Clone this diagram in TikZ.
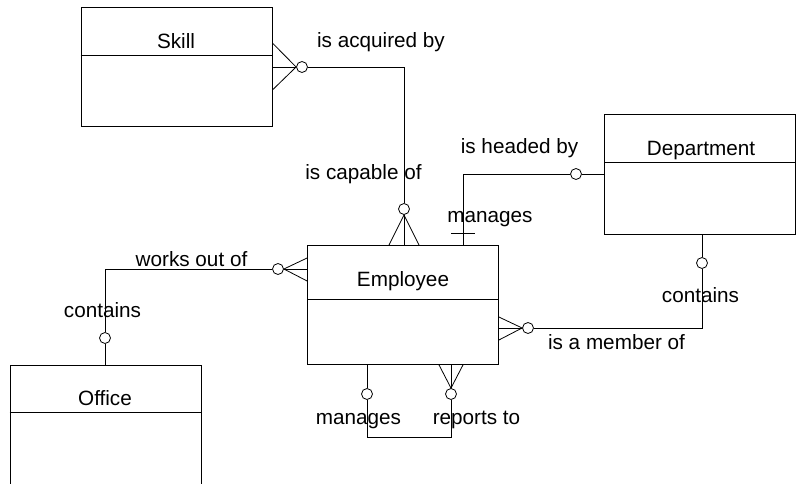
\documentclass[tikz,border=0pt]{standalone}
\usepackage{fontspec}
\setmainfont{Liberation Sans}
\usepackage{tikz}
\usetikzlibrary{calc}

\begin{document}
\begin{tikzpicture}[x=1pt,y=-1pt]
\tikzset{font=\fontsize{20.7}{24}\selectfont}
\tikzset{every path/.style={line width=0.8pt}}
\tikzset{entity/.style={draw, minimum width=191pt, minimum height=119pt, inner sep=0pt}}
\tikzset{optional/.style={circle, draw, fill=white, inner sep=0pt, minimum size=11pt}}
\tikzset{role/.style={anchor=base, inner sep=0pt}}
\useasboundingbox (0,0) rectangle (797,484);

\node[entity] (skill) at (176.5,66.5) {};
\node[role] (skillname) at (176,48.5) {Skill};
\draw (skill.west |- 0,55) -- (skill.east |- 0,55);

\node[entity] (emp) at (403,305) {};
\node[role] (empname) at (403,286) {Employee};
\draw (emp.west |- 0,299) -- (emp.east |- 0,299);

\node[entity, minimum height=120pt] (dept) at (700,174) {};
\node[role] (deptname) at (701,155) {Department};
\draw (dept.west |- 0,162) -- (dept.east |- 0,162);

\node[entity, minimum height=121pt] (office) at (105.5,425.5) {};
\node[role] (officename) at (105,405.5) {Office};
\draw (office.west |- 0,412) -- (office.east |- 0,412);

\node[optional] (oSkill) at (302,67) {};
\node[optional] (oEmpTop) at (404,209) {};
\node[optional] (oDept) at (576,174) {};
\node[optional] (oWorks) at (278,269) {};
\node[optional] (oOffice) at (105,338) {};
\node[optional] (oMember) at (528,328) {};
\node[optional] (oDeptBot) at (702,263) {};
\node[optional] (oMgr) at (367,394) {};
\node[optional] (oRep) at (451,394) {};

\coordinate (headEnd) at (emp.north -| 463,0);
\coordinate (loopL) at (367,437);
\coordinate (loopR) at (451,437);

\draw (skill.east |- oSkill) -- (oSkill);
\draw ($(skill.east |- oSkill)+(0,-24)$) -- (oSkill.west) -- ($(skill.east |- oSkill)+(0,23)$);
\draw (oSkill) -| (oEmpTop);
\draw (oEmpTop) -- (emp.north -| oEmpTop);
\draw ($(emp.north -| oEmpTop)+(-15,0)$) -- (oEmpTop.south) -- ($(emp.north -| oEmpTop)+(15,0)$);

\draw (dept.west |- oDept) -- (oDept);
\draw (oDept) -| (headEnd);
\draw ($(headEnd)+(-12,-12)$) -- ($(headEnd)+(12,-12)$);

\draw (emp.west |- oWorks) -- (oWorks);
\draw ($(emp.west |- oWorks)+(0,-11)$) -- (oWorks.east) -- ($(emp.west |- oWorks)+(0,12)$);
\draw (oWorks) -| (oOffice);
\draw (oOffice) -- (office.north -| oOffice);

\draw (emp.east |- oMember) -- (oMember);
\draw ($(emp.east |- oMember)+(0,-11)$) -- (oMember.west) -- ($(emp.east |- oMember)+(0,12)$);
\draw (oMember) -| (oDeptBot);
\draw (oDeptBot) -- (dept.south -| oDeptBot);

\draw (emp.south -| oMgr) -- (oMgr);
\draw (oMgr) -- (loopL) -- (loopR) -- (oRep);
\draw (emp.south -| oRep) -- (oRep);
\draw ($(emp.south -| oRep)+(-12,0)$) -- (oRep.north) -- ($(emp.south -| oRep)+(12,0)$);

\node[role] (lblAcquired) at (381,48) {is acquired by};
\node[role] (lblCapable) at (363.5,179) {is capable of};
\node[role] (lblHeaded) at (519.5,153) {is headed by};
\node[role] (lblManagesDept) at (490,222) {manages};
\node[role] (lblWorks) at (191.5,266.5) {works out of};
\node[role] (lblContainsOffice) at (102.5,317.5) {contains};
\node[role] (lblContainsDept) at (700.5,302.5) {contains};
\node[role] (lblMember) at (616.5,349.5) {is a member of};
\node[role] (lblManages) at (358.5,424) {manages};
\node[role] (lblReports) at (476.5,424) {reports to};
\end{tikzpicture}
\end{document}
